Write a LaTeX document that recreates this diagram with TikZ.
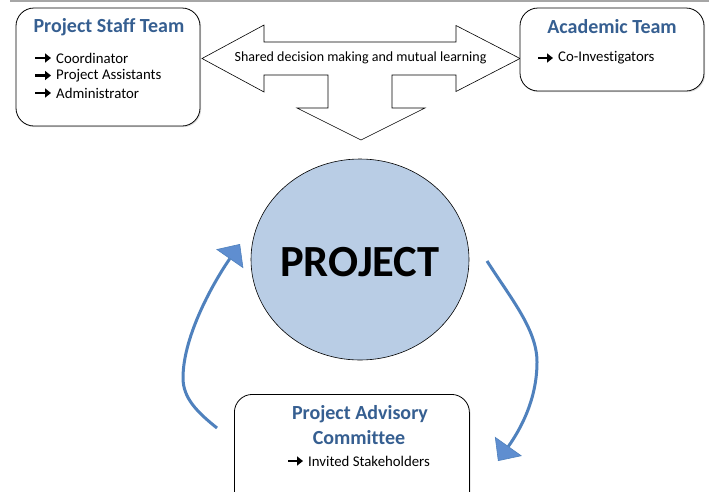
\documentclass[tikz,border=0pt]{standalone}
\usepackage{fontspec}
\setmainfont{Carlito}[Ligatures=NoCommon]
\usetikzlibrary{arrows.meta,shadows,shapes.geometric}
\definecolor{titleblue}{RGB}{54,95,145}
\definecolor{loopblue}{RGB}{79,129,189}
\definecolor{headblue}{RGB}{95,142,208}
\definecolor{circfill}{RGB}{185,205,229}
\tikzset{
  box/.style={draw=black, line width=0.8pt, rounded corners=18pt, fill=white,
    drop shadow={opacity=0.25, shadow xshift=1.2pt, shadow yshift=-1.2pt}},
  ttl/.style={text=titleblue, font=\fontsize{20}{24}\selectfont\bfseries, inner sep=0pt},
  item/.style={anchor=west, font=\fontsize{14.8}{17}\selectfont, inner sep=0pt},
  bul/.style={line width=2.6pt, -{Triangle[length=6pt,width=9pt]}},
  bigarrow/.style={draw=black, line width=0.6pt, fill=white, line join=miter},
  loop/.style={draw=loopblue, line width=3pt,
    -{Triangle[length=18pt,width=33pt,fill=headblue,line width=0.6pt]}},
}
\begin{document}
\begin{tikzpicture}[x=1pt,y=-1pt]
\clip (0,0) rectangle (709,491);
\fill[white] (0,0) rectangle (709,491);
% top rule
\draw[color=black!35, line width=1.5pt] (10,1.2) -- (709,1.2);

% big three-headed arrow
\draw[bigarrow] (202,58.5) -- (264,25) -- (264,42) -- (456,42) -- (456,25.5)
  -- (520,58.5) -- (456,91.5) -- (456,75) -- (392,75) -- (392,108) -- (425,108)
  -- (361,140) -- (297,108) -- (328,108) -- (328,75) -- (264,75) -- (264,92) -- cycle;
\node[font=\fontsize{14}{17}\selectfont, inner sep=0pt] (shared) at (360.5,58)
  {Shared decision making and mutual learning};

% Project Staff Team
\node[box, minimum width=184pt, minimum height=118pt] (staff) at (108,67) {};
\node[ttl] (stafft) at (109,27) {Project Staff Team};
\node[item] (s1) at (56,58) {Coordinator};
\node[item] (s2) at (56,75.5) {Project Assistants};
\node[item] (s3) at (56,93) {Administrator};
\foreach \n in {s1,s2,s3}
  \draw[bul] ([xshift=-21pt]\n.west) -- ([xshift=-5pt]\n.west);

% Academic Team
\node[box, minimum width=184pt, minimum height=83pt] (acad) at (612,49.5) {};
\node[ttl] (acadt) at (612,27) {Academic Team};
\node[item] (a1) at (558,58) {Co-Investigators};
\draw[bul] ([xshift=-20pt]a1.west) -- ([xshift=-5pt]a1.west);

% Project circle
\node[draw=black, line width=0.6pt, fill=circfill, ellipse, minimum width=218pt,
  minimum height=201pt, inner sep=0pt] (proj) at (360,259.5) {};
\node[font=\fontsize{44.5}{52}\selectfont\bfseries, inner sep=0pt] (projt) at (360,262) {PROJECT};

% Advisory committee
\node[box, minimum width=235pt, minimum height=120pt, anchor=north west] (adv) at (234,394) {};
\node[ttl] (advt1) at (360,414) {Project Advisory};
\node[ttl] (advt2) at (359,438) {Committee};
\node[item] (c1) at (308,461) {Invited Stakeholders};
\draw[bul] ([xshift=-20pt]c1.west) -- ([xshift=-5pt]c1.west);

% loop arrows
\coordinate (l0) at (217,428);
\coordinate (l1) at (183,378);
\coordinate (l2) at (240,244);
\draw[loop] (l0) .. controls (197,412) and (183,398) .. (l1)
  .. controls (183,335) and (215,280) .. (l2);
\coordinate (r0) at (487,261);
\coordinate (r1) at (537,362);
\coordinate (r2) at (498,461);
\draw[loop] (r0) .. controls (512,300) and (537,330) .. (r1)
  .. controls (537,400) and (520,430) .. (r2);
\end{tikzpicture}
\end{document}
